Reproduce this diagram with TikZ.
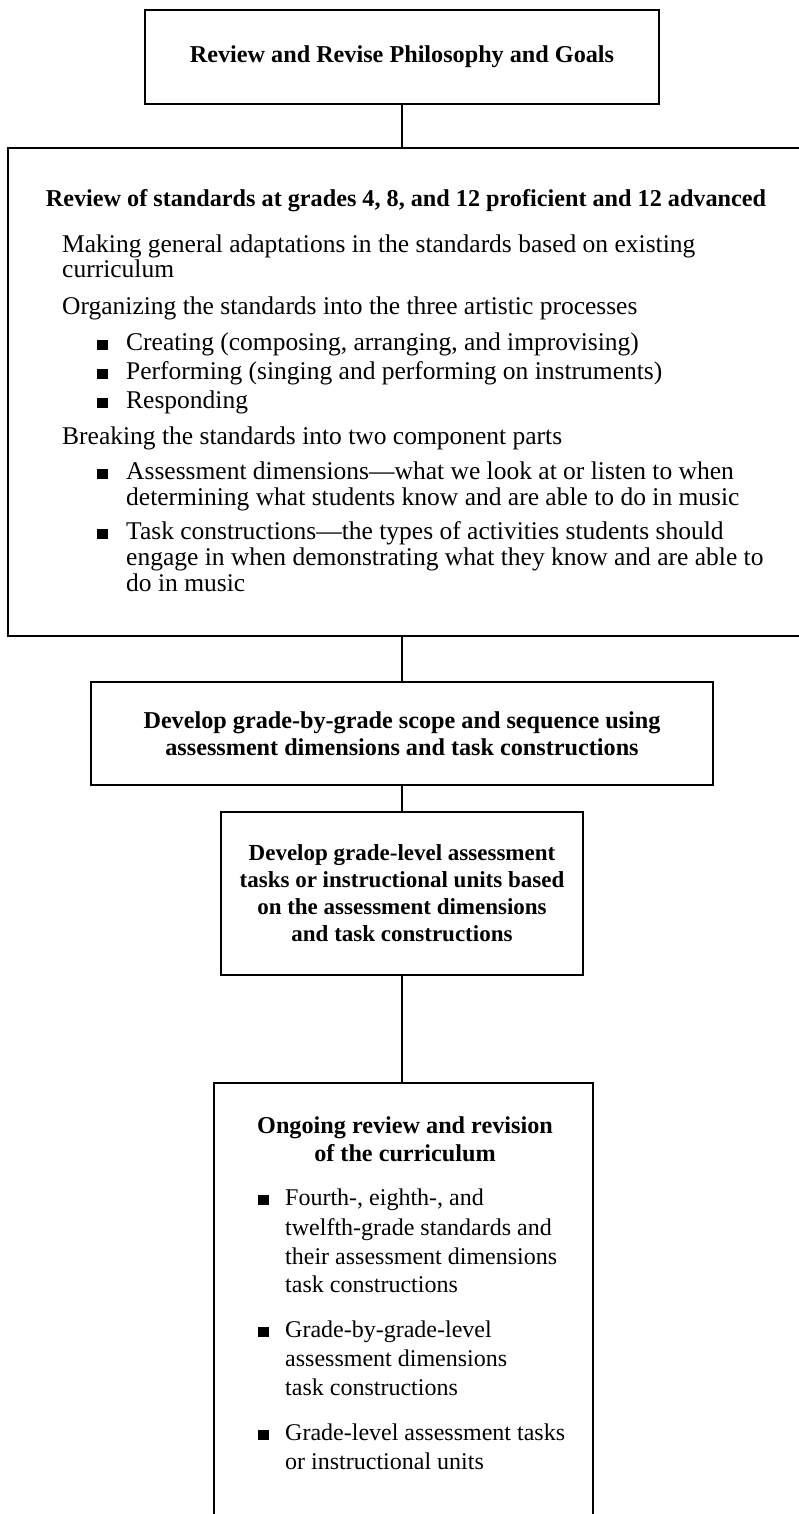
\documentclass[tikz,border=0pt]{standalone}
\usepackage{fontspec}
\setmainfont{Liberation Serif}
\newcommand\fsr{\fontsize{25.5}{27}\selectfont}
\newcommand\fsc{\fontsize{24}{27}\selectfont}
\newcommand\fsb{\fontsize{24.2}{27}\selectfont}
\newcommand\fsd{\fontsize{23}{27}\selectfont}
\newcommand\sqbul{\rule{10.5pt}{10.5pt}}
\begin{document}
\begin{tikzpicture}[x=1pt,y=-1pt,
  box/.style={draw, line width=2.6pt, rectangle, inner sep=0pt, font=\bfseries\fsb, align=center},
  link/.style={line width=2pt},
  ln/.style={anchor=base west, inner sep=0pt, font=\fsr},
  lnc/.style={anchor=base west, inner sep=0pt, font=\fsc},
  hd/.style={anchor=base, inner sep=0pt, font=\bfseries\fsb},
  bul/.style={anchor=base west, inner sep=0pt, font=\fsr}]
\useasboundingbox (0,0) rectangle (799,1514);
\clip (0,0) rectangle (799,1514);

% boxes
\node[box, minimum width=514pt, minimum height=94pt] (b1) at (402,57)
  {Review and Revise Philosophy and Goals};
\node[box, minimum width=822pt, minimum height=488pt] (b2) at (419,392) {};
\node[box, minimum width=622pt, minimum height=103pt] (b3) at (402,733.5)
  {Develop grade-by-grade scope and sequence using\\assessment dimensions and task constructions};
\node[box, minimum width=362pt, minimum height=163pt, font=\bfseries\fsd] (b4) at (402,893.5)
  {Develop grade-level assessment\\tasks or instructional units based\\on the assessment dimensions\\and task constructions};
\node[box, minimum width=379pt, minimum height=477pt] (b5) at (403.5,1321.5) {};

% connectors
\draw[link] (b1.south) -- (b1.south |- b2.north);
\draw[link] (b1.south |- b2.south) -- (b3.north);
\draw[link] (b3.south) -- (b4.north);
\draw[link] (b4.south) -- (b4.south |- b5.north);

% box 2 text
\node[hd] (h2) at (406,207) {Review of standards at grades 4, 8, and 12 proficient and 12 advanced};
\node[ln] (a1) at (62,252) {Making general adaptations in the standards based on existing};
\node[ln] (a2) at (62,277) {curriculum};
\node[ln] (a3) at (62,314) {Organizing the standards into the three artistic processes};
\node[bul] (p1) at (97,350) {\sqbul};
\node[ln] (a4) at (126,350) {Creating (composing, arranging, and improvising)};
\node[bul] (p2) at (97,379) {\sqbul};
\node[ln] (a5) at (126,379) {Performing (singing and performing on instruments)};
\node[bul] (p3) at (97,408) {\sqbul};
\node[ln] (a6) at (126,408) {Responding};
\node[ln] (a7) at (62,444) {Breaking the standards into two component parts};
\node[bul] (p4) at (97,479) {\sqbul};
\node[ln] (a8) at (126,479) {Assessment dimensions---what we look at or listen to when};
\node[ln] (a9) at (126,505) {determining what students know and are able to do in music};
\node[bul] (p5) at (97,539) {\sqbul};
\node[ln] (a10) at (126,539) {Task constructions---the types of activities students should};
\node[ln] (a11) at (126,565) {engage in when demonstrating what they know and are able to};
\node[ln] (a12) at (126,591) {do in music};

% box 5 text
\node[hd] (h5a) at (405,1133) {Ongoing review and revision};
\node[hd] (h5b) at (405,1161) {of the curriculum};
\node[bul] (q1) at (258,1205) {\sqbul};
\node[lnc] (c1) at (285,1205) {Fourth-, eighth-, and};
\node[lnc] (c2) at (285,1235) {twelfth-grade standards and};
\node[lnc] (c3) at (285,1264) {their assessment dimensions};
\node[lnc] (c4) at (285,1292) {task constructions};
\node[bul] (q2) at (258,1337) {\sqbul};
\node[lnc] (c5) at (285,1337) {Grade-by-grade-level};
\node[lnc] (c6) at (285,1366) {assessment dimensions};
\node[lnc] (c7) at (285,1395) {task constructions};
\node[bul] (q3) at (258,1440) {\sqbul};
\node[lnc] (c8) at (285,1440) {Grade-level assessment tasks};
\node[lnc] (c9) at (285,1469) {or instructional units};
\end{tikzpicture}
\end{document}
